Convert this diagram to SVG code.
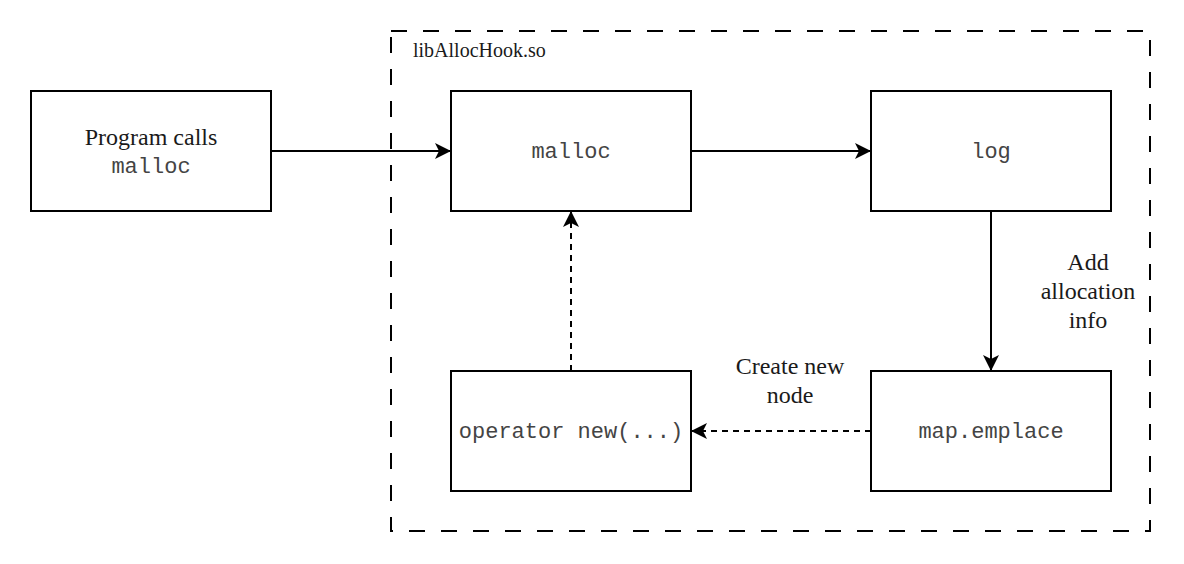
<svg xmlns="http://www.w3.org/2000/svg" width="1184" height="564" viewBox="0 0 1184 564">
  <style>
    .box { fill: #ffffff; stroke: #000000; stroke-width: 2; }
    .serif { font-family: "Liberation Serif", "Times New Roman", serif; font-size: 24px; fill: #1a1a1a; text-anchor: middle; }
    .mono { font-family: "Liberation Mono", "Courier New", monospace; font-size: 22px; fill: #444444; text-anchor: middle; }
    .edge { fill: none; stroke: #000000; stroke-width: 2; }
    .dashed { stroke-dasharray: 6 5; }
  </style>
  <defs>
    <marker id="arrow" markerUnits="userSpaceOnUse" markerWidth="17" markerHeight="16" refX="16" refY="8" orient="auto" viewBox="0 0 17 16">
      <path d="M0,0 L16,8 L0,16 L4,8 z" fill="#000000"/>
    </marker>
  </defs>
  <rect width="1184" height="564" fill="#ffffff"/>

  <g id="container">
    <rect x="391" y="31" width="759" height="500" fill="none" stroke="#000000" stroke-width="2" stroke-dasharray="16 16"/>
    <text x="413" y="57" font-family="Liberation Serif, Times New Roman, serif" font-size="20" fill="#1a1a1a">libAllocHook.so</text>
  </g>

  <g id="connectors">
    <line class="edge" x1="271" y1="151" x2="451" y2="151" marker-end="url(#arrow)"/>
    <line class="edge" x1="691" y1="151" x2="871" y2="151" marker-end="url(#arrow)"/>
    <line class="edge" x1="991" y1="211" x2="991" y2="371" marker-end="url(#arrow)"/>
    <line class="edge dashed" x1="871" y1="431" x2="691" y2="431" marker-end="url(#arrow)"/>
    <line class="edge dashed" x1="571" y1="371" x2="571" y2="211" marker-end="url(#arrow)"/>
    <text class="serif" x="1088" y="270">Add</text>
    <text class="serif" x="1088" y="299">allocation</text>
    <text class="serif" x="1088" y="328">info</text>
    <text class="serif" x="790" y="374">Create new</text>
    <text class="serif" x="790" y="403">node</text>
  </g>

  <g id="program">
    <rect class="box" x="31" y="91" width="240" height="120"/>
    <text class="serif" x="151" y="145">Program calls</text>
    <text class="mono" x="151" y="173">malloc</text>
  </g>

  <g id="malloc">
    <rect class="box" x="451" y="91" width="240" height="120"/>
    <text class="mono" x="571" y="158">malloc</text>
  </g>

  <g id="log">
    <rect class="box" x="871" y="91" width="240" height="120"/>
    <text class="mono" x="991" y="158">log</text>
  </g>

  <g id="operator-new">
    <rect class="box" x="451" y="371" width="240" height="120"/>
    <text class="mono" x="571" y="438">operator new(...)</text>
  </g>

  <g id="map-emplace">
    <rect class="box" x="871" y="371" width="240" height="120"/>
    <text class="mono" x="991" y="438">map.emplace</text>
  </g>
</svg>
